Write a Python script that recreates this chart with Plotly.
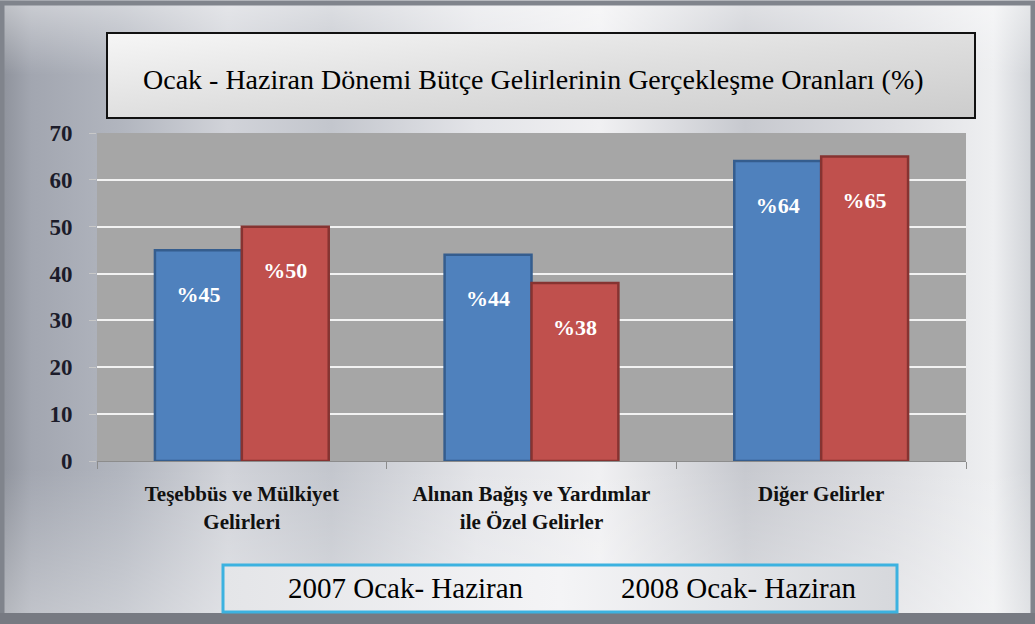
import base64
import plotly.graph_objects as go

categories = ["Teşebbüs ve Mülkiyet<br>Gelirleri",
              "Alınan Bağış ve Yardımlar<br>ile Özel Gelirler",
              "Diğer Gelirler"]
series_names = ["2007 Ocak- Haziran", "2008 Ocak- Haziran"]
values_2007 = [45, 44, 64]
values_2008 = [50, 38, 65]
y_ticks = [0, 10, 20, 30, 40, 50, 60, 70]
title_text = "Ocak - Haziran Dönemi Bütçe Gelirlerinin Gerçekleşme Oranları (%)"

W, H = 1035, 624
L, R, T, B = 97, 69, 133, 163
PW, PH = W - L - R, H - T - B


def px(x):
    return (x - L) / PW


def py(y):
    return (H - B - y) / PH


svg = f"""<svg xmlns='http://www.w3.org/2000/svg' width='{W}' height='{H}' viewBox='0 0 {W} {H}'>
<defs>
<linearGradient id='bg' x1='0' y1='0' x2='1' y2='0'>
<stop offset='0' stop-color='#8d919a'/>
<stop offset='0.03' stop-color='#a2a6b0'/>
<stop offset='0.12' stop-color='#b2b6bf'/>
<stop offset='0.22' stop-color='#d1d3d9'/>
<stop offset='0.32' stop-color='#c3c6cd'/>
<stop offset='0.46' stop-color='#e3e4e8'/>
<stop offset='0.58' stop-color='#f0f0f2'/>
<stop offset='0.72' stop-color='#c7c9cf'/>
<stop offset='0.86' stop-color='#dcdde1'/>
<stop offset='0.96' stop-color='#eeeff1'/>
<stop offset='1' stop-color='#cdd0d5'/>
</linearGradient>
<linearGradient id='vt' x1='0' y1='0' x2='0' y2='1'>
<stop offset='0' stop-color='#ffffff' stop-opacity='0.45'/>
<stop offset='0.12' stop-color='#ffffff' stop-opacity='0.0'/>
<stop offset='0.75' stop-color='#ffffff' stop-opacity='0.0'/>
<stop offset='1' stop-color='#ffffff' stop-opacity='0.35'/>
</linearGradient>
<linearGradient id='tb' x1='0' y1='0' x2='1' y2='1'>
<stop offset='0' stop-color='#f6f6f6'/>
<stop offset='0.5' stop-color='#dfdfdf'/>
<stop offset='1' stop-color='#cccccc'/>
</linearGradient>
<linearGradient id='lb' x1='0' y1='0' x2='1' y2='0'>
<stop offset='0' stop-color='#e4e5e8'/>
<stop offset='0.5' stop-color='#f4f4f6'/>
<stop offset='1' stop-color='#d6d8dc'/>
</linearGradient>
</defs>
<rect x='0' y='0' width='{W}' height='{H}' fill='url(#bg)'/>
<rect x='0' y='0' width='{W}' height='{H}' fill='url(#vt)'/>
<rect x='2' y='3' width='{W-4}' height='{H-6}' fill='none' stroke='#80848c' stroke-width='5'/>
<rect x='0' y='{H-11}' width='{W}' height='11' fill='#777a82'/>
<rect x='107' y='33' width='868' height='85' fill='url(#tb)'/>
<rect x='223' y='565' width='674' height='47' fill='url(#lb)'/>
<rect x='{L}' y='{T}' width='{PW}' height='{PH}' fill='#a6a6a6'/>
</svg>"""
svg_uri = "data:image/svg+xml;base64," + base64.b64encode(svg.encode()).decode()

serif = "Liberation Serif"
NB = "\u00a0"

fig = go.Figure()
fig.add_trace(go.Bar(
    x=categories, y=values_2007, name=series_names[0],
    marker=dict(color="#4f81bd", line=dict(color="#355d8e", width=2.5)),
    text=[NB + "<br>%" + str(v) for v in values_2007],
    textposition="inside", insidetextanchor="end",
    textfont=dict(family=serif, size=22, color="white", weight="bold"),
    showlegend=False,
))
fig.add_trace(go.Bar(
    x=categories, y=values_2008, name=series_names[1],
    marker=dict(color="#c0504d", line=dict(color="#863331", width=2.5)),
    text=[NB + "<br>%" + str(v) for v in values_2008],
    textposition="inside", insidetextanchor="end",
    textfont=dict(family=serif, size=22, color="white", weight="bold"),
    showlegend=False,
))

fig.update_layout(
    width=W, height=H,
    margin=dict(l=L, r=R, t=T, b=B, pad=0),
    paper_bgcolor="#d0d2d6",
    plot_bgcolor="#a6a6a6",
    barmode="group", bargap=0.4, bargroupgap=0.0,
    showlegend=False,
    images=[dict(source=svg_uri, xref="paper", yref="paper",
                 x=px(0), y=py(0), sizex=W / PW, sizey=H / PH,
                 xanchor="left", yanchor="top", sizing="stretch", layer="below")],
    shapes=[
        dict(type="rect", xref="paper", yref="paper",
             x0=px(107), x1=px(975), y0=py(118), y1=py(33),
             line=dict(color="#111111", width=2), fillcolor="rgba(0,0,0,0)"),
        dict(type="rect", xref="paper", yref="paper",
             x0=px(223), x1=px(897), y0=py(612), y1=py(565),
             line=dict(color="#3cb2e0", width=3), fillcolor="rgba(0,0,0,0)"),
    ],
    annotations=[
        dict(text=title_text, xref="paper", yref="paper",
             x=px(533), y=py(80), showarrow=False, xanchor="center", yanchor="middle",
             font=dict(family=serif, size=28, color="#000000")),
        dict(text=series_names[0], xref="paper", yref="paper",
             x=px(406), y=py(588), showarrow=False, xanchor="center", yanchor="middle",
             font=dict(family=serif, size=29, color="#000000")),
        dict(text=series_names[1], xref="paper", yref="paper",
             x=px(739), y=py(588), showarrow=False, xanchor="center", yanchor="middle",
             font=dict(family=serif, size=29, color="#000000")),
    ],
)

fig.update_yaxes(
    range=[0, 70], tickvals=y_ticks, ticktext=[str(v) for v in y_ticks],
    showgrid=True, gridcolor="#f2f2f2", gridwidth=2,
    zeroline=False, showline=False,
    ticks="outside", ticklen=7, tickcolor="#c8c8c8", tickwidth=1,
    tickfont=dict(family=serif, size=23, color="#1c1c2a", weight="bold"),
    ticklabelstandoff=12,
)
fig.update_xaxes(
    showgrid=False, showline=True, linecolor="#8c8c8c", linewidth=1,
    ticks="outside", tickson="boundaries", ticklen=7, tickcolor="#8c8c8c",
    tickfont=dict(family=serif, size=21, color="#111111", weight="bold"),
    ticklabelstandoff=14,
)

fig.write_html("out.html", config={"displayModeBar": False},
               post_script="document.body.style.margin='0';document.body.style.overflow='hidden';")
